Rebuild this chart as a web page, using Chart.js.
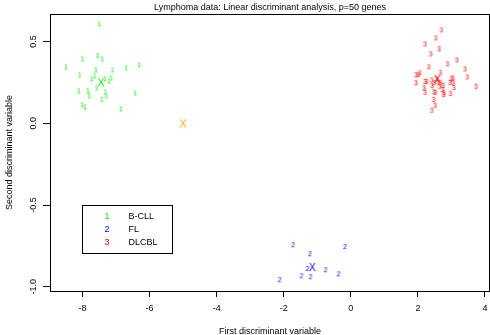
<!DOCTYPE html>
<html>
<head>
<meta charset="utf-8">
<script src="https://cdn.jsdelivr.net/npm/chart.js@4.4.1/dist/chart.umd.min.js"></script>
<style>
  html, body { margin: 0; padding: 0; background: #fff; }
  canvas { display: block; }
</style>
</head>
<body>
<canvas id="lda" width="490" height="335"></canvas>
<script>
// Group labels, plotting codes and colours
const groupNames = ['B-CLL', 'FL', 'DLCBL'];
const groupCodes = ['1', '2', '3'];
const groupColors = ['#00ee00', '#0000ff', '#ff0000'];

// Discriminant scores [first, second] for each sample
const bcllPoints = [
  [-7.50, 0.606], [-8.00, 0.391], [-7.55, 0.413], [-7.41, 0.391], [-8.49, 0.343],
  [-6.31, 0.355], [-6.70, 0.336], [-7.60, 0.324], [-7.11, 0.324], [-8.09, 0.294],
  [-7.64, 0.287], [-7.73, 0.269], [-7.14, 0.275], [-7.33, 0.269], [-7.21, 0.257],
  [-7.58, 0.214], [-8.11, 0.196], [-7.84, 0.196], [-7.32, 0.190], [-7.29, 0.165],
  [-7.80, 0.165], [-6.43, 0.183], [-7.43, 0.144], [-8.01, 0.110], [-7.93, 0.098],
  [-6.86, 0.086]
];
const flPoints = [
  [-1.72, -0.746], [-0.17, -0.757], [-1.22, -0.801], [-1.29, -0.891], [-0.75, -0.899],
  [-0.36, -0.924], [-1.47, -0.936], [-1.20, -0.942], [-2.12, -0.960]
];
const dlcblPoints = [
  [2.70, 0.569], [2.53, 0.520], [2.21, 0.483], [2.63, 0.453], [2.38, 0.422],
  [3.16, 0.385], [2.88, 0.361], [2.32, 0.343], [3.40, 0.330], [2.05, 0.306],
  [1.94, 0.294], [2.01, 0.294], [2.67, 0.309], [3.47, 0.281], [2.21, 0.254],
  [2.26, 0.254], [1.94, 0.245], [2.41, 0.263], [2.48, 0.245], [2.55, 0.269],
  [2.99, 0.269], [3.04, 0.275], [2.67, 0.245], [2.75, 0.230], [2.96, 0.248],
  [3.05, 0.245], [3.73, 0.224], [2.18, 0.214], [2.42, 0.228], [2.65, 0.224],
  [3.07, 0.216], [2.73, 0.204], [2.21, 0.187], [2.47, 0.190], [2.52, 0.187],
  [2.76, 0.183], [2.77, 0.173], [2.97, 0.179], [2.47, 0.143], [2.51, 0.108],
  [2.41, 0.077], [2.60, 0.250]
];

// Group centroids and the point marked in orange
const centroidX = [-7.45, -1.15, 2.58];
const centroidY = [0.245, -0.885, 0.265];
const extraPoint = [-5.0, 0.0];

// Axis ticks and ranges
const xTicks = [-8, -6, -4, -2, 0, 2, 4];
const yTicks = [-1.0, -0.5, 0.0, 0.5];
const xRange = [-8.97, 4.15];
const yRange = [-1.026, 0.669];

const FONT = '"Liberation Sans", Arial, Helvetica, sans-serif';

// Render a character onto a small canvas so it can act as a point style
function glyph(ch, color, px) {
  const s = Math.ceil(px * 1.4) + 2;
  const c = document.createElement('canvas');
  c.width = s; c.height = s;
  const g = c.getContext('2d');
  g.font = px + 'px ' + FONT;
  g.fillStyle = color;
  g.textAlign = 'center';
  g.textBaseline = 'middle';
  g.fillText(ch, s / 2, s / 2 + 0.5);
  return c;
}

const groupPoints = [bcllPoints, flPoints, dlcblPoints];
const datasets = [];
groupPoints.forEach((pts, i) => {
  datasets.push({
    label: groupNames[i],
    data: pts.map(([x, y]) => ({ x, y })),
    pointStyle: glyph(groupCodes[i], groupColors[i], 7)
  });
});
centroidX.forEach((cx, i) => {
  datasets.push({
    label: groupNames[i] + ' centroid',
    data: [{ x: cx, y: centroidY[i] }],
    pointStyle: glyph('X', groupColors[i], 10)
  });
});
datasets.push({
  label: 'X',
  data: [{ x: extraPoint[0], y: extraPoint[1] }],
  pointStyle: glyph('X', '#ffa500', 11)
});

// Box around the plotting region and the boxed key
const framePlugin = {
  id: 'frameAndKey',
  afterDraw(chart) {
    const { ctx, chartArea: a, scales } = chart;
    ctx.save();
    ctx.strokeStyle = '#000';
    ctx.lineWidth = 1;
    ctx.strokeRect(Math.round(a.left) + 0.5, Math.round(a.top) + 0.5,
                   Math.round(a.right - a.left) - 1, Math.round(a.bottom - a.top));

    const left = Math.round(scales.x.getPixelForValue(-8.03)) + 0.5;
    const top = Math.round(scales.y.getPixelForValue(-0.5)) + 0.5;
    ctx.strokeRect(left, top, 90, 48);
    ctx.font = '9px ' + FONT;
    ctx.textBaseline = 'middle';
    groupNames.forEach((name, i) => {
      const yy = top + 11 + i * 12.8;
      ctx.fillStyle = groupColors[i];
      ctx.textAlign = 'center';
      ctx.fillText(groupCodes[i], left + 24.5, yy);
      ctx.fillStyle = '#000';
      ctx.textAlign = 'left';
      ctx.fillText(name, left + 46, yy);
    });
    ctx.restore();
  }
};

Chart.defaults.color = '#000';
Chart.defaults.font.family = FONT;

new Chart(document.getElementById('lda'), {
  type: 'scatter',
  data: { datasets },
  options: {
    responsive: false,
    animation: false,
    events: [],
    layout: { padding: 0, autoPadding: false },
    plugins: {
      legend: { display: false },
      tooltip: { enabled: false },
      title: {
        display: true,
        text: 'Lymphoma data: Linear discriminant analysis, p=50 genes',
        fullSize: false,
        font: { size: 9, weight: 'normal' },
        padding: { top: 2, bottom: 1.2 },
        color: '#000'
      }
    },
    scales: {
      x: {
        type: 'linear',
        min: xRange[0],
        max: xRange[1],
        afterBuildTicks: s => { s.ticks = xTicks.map(v => ({ value: v })); },
        afterFit: s => { s.height = 44; s.paddingLeft = 0; s.paddingRight = 0; },
        ticks: {
          font: { size: 9 },
          padding: 6,
          maxRotation: 0,
          autoSkip: false,
          callback: v => String(v)
        },
        grid: { display: true, drawOnChartArea: false, drawTicks: true, tickLength: 6, color: '#000', lineWidth: 1 },
        border: { display: true, color: '#000', width: 1 },
        title: {
          display: true,
          text: 'First discriminant variable',
          font: { size: 9 },
          padding: { top: 0, bottom: -1.5 }
        }
      },
      y: {
        type: 'linear',
        min: yRange[0],
        max: yRange[1],
        afterBuildTicks: s => { s.ticks = yTicks.map(v => ({ value: v })); },
        afterFit: s => { s.width = 50; s.paddingTop = 0; s.paddingBottom = 0; },
        ticks: {
          font: { size: 9 },
          padding: 2,
          minRotation: 90,
          maxRotation: 90,
          crossAlign: 'center',
          autoSkip: false,
          callback: v => Number(v).toFixed(1)
        },
        grid: { display: true, drawOnChartArea: false, drawTicks: true, tickLength: 7, color: '#000', lineWidth: 1 },
        border: { display: true, color: '#000', width: 1 },
        title: {
          display: true,
          text: 'Second discriminant variable',
          font: { size: 9 },
          padding: { top: 4.5, bottom: 0 }
        }
      }
    }
  },
  plugins: [framePlugin]
});
</script>
</body>
</html>
